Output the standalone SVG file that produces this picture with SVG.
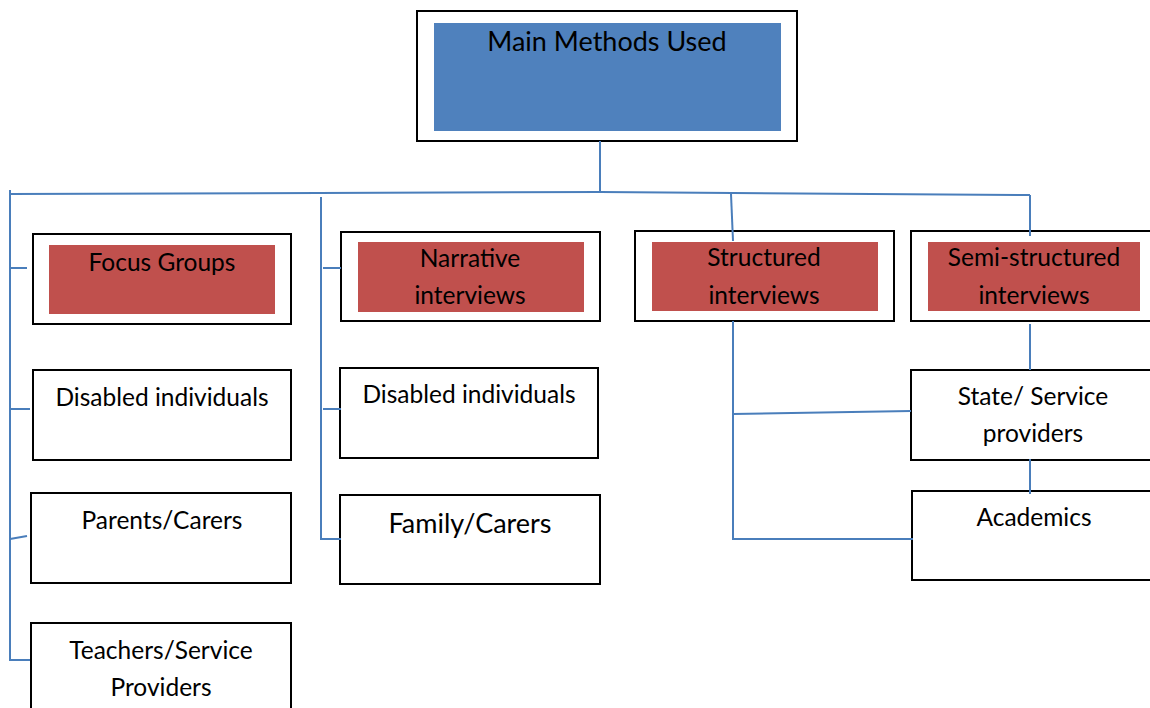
<svg xmlns="http://www.w3.org/2000/svg" width="1150" height="708" viewBox="0 0 1150 708">
<style>
text{font-family:Lato,"Liberation Sans",sans-serif;font-size:24.5px;fill:#000;text-anchor:middle}
.big{font-size:27px}
.box{fill:#fff;stroke:#000;stroke-width:2}
.blue{fill:#4F81BD}
.red{fill:#C0504D}
.conn{fill:none;stroke:#4A7EBB;stroke-width:2}
</style>
<g id="main">
<rect class="box" x="417" y="11" width="380" height="130"/>
<rect class="blue" x="434" y="23" width="347" height="108"/>
<text class="big" x="607" y="51">Main Methods Used</text>
</g>
<g id="focus">
<rect class="box" x="33" y="234" width="258" height="90"/>
<rect class="red" x="49" y="245" width="226" height="69"/>
<text x="162" y="271">Focus Groups</text>
</g>
<g id="narrative">
<rect class="box" x="341" y="232" width="259" height="89"/>
<rect class="red" x="358" y="242" width="226" height="70"/>
<text x="470" y="267">Narrative</text>
<text x="470" y="304">interviews</text>
</g>
<g id="structured">
<rect class="box" x="635" y="231" width="259" height="90"/>
<rect class="red" x="652" y="242" width="226" height="69"/>
<text x="764" y="266">Structured</text>
<text x="764" y="304">interviews</text>
</g>
<g id="semi">
<rect class="box" x="911" y="231" width="245" height="90"/>
<rect class="red" x="928" y="242" width="212" height="69"/>
<text x="1034" y="266">Semi-structured</text>
<text x="1034" y="304">interviews</text>
</g>
<g id="fg-disabled">
<rect class="box" x="33" y="370" width="258" height="90"/>
<text x="162" y="406">Disabled individuals</text>
</g>
<g id="fg-parents">
<rect class="box" x="31" y="493" width="260" height="90"/>
<text x="162" y="529">Parents/Carers</text>
</g>
<g id="fg-teachers">
<rect class="box" x="31" y="623" width="260" height="95"/>
<text x="161" y="659">Teachers/Service</text>
<text x="161" y="696">Providers</text>
</g>
<g id="ni-disabled">
<rect class="box" x="340" y="368" width="258" height="90"/>
<text x="469" y="403">Disabled individuals</text>
</g>
<g id="ni-family">
<rect class="box" x="340" y="495" width="260" height="89"/>
<text class="big" x="470" y="533">Family/Carers</text>
</g>
<g id="state">
<rect class="box" x="911" y="370" width="245" height="90"/>
<text x="1033" y="405">State/ Service</text>
<text x="1033" y="442">providers</text>
</g>
<g id="academics">
<rect class="box" x="912" y="491" width="244" height="89"/>
<text x="1034" y="526">Academics</text>
</g>
<g id="connectors">
<path class="conn" d="M600 141 V192"/>
<path class="conn" d="M10 194 L600 192 L733 193 L1030 195"/>
<path class="conn" d="M731 194 L733 241"/>
<path class="conn" d="M1030 195 V236"/>
<path class="conn" d="M10 190 V660 H30"/>
<path class="conn" d="M10 268 H27"/>
<path class="conn" d="M10 409 H30"/>
<path class="conn" d="M10 539 L27 536"/>
<path class="conn" d="M321 197 V539 H341"/>
<path class="conn" d="M323 268 H341"/>
<path class="conn" d="M323 409 H341"/>
<path class="conn" d="M733 321 V539 H913"/>
<path class="conn" d="M733 414 L911 411"/>
<path class="conn" d="M1030 324 V370"/>
<path class="conn" d="M1030 459 V494"/>
</g>
</svg>
